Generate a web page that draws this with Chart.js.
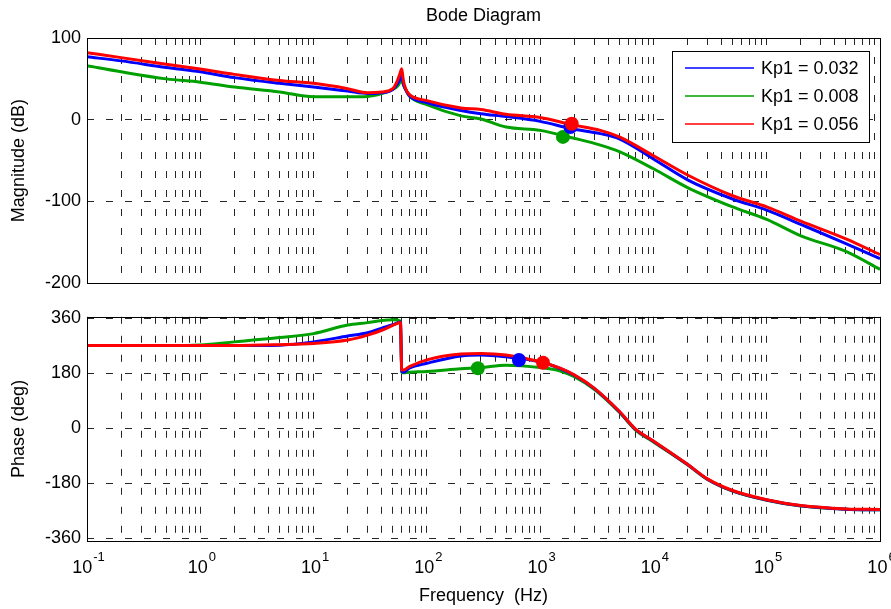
<!DOCTYPE html>
<html>
<head>
<meta charset="utf-8">
<script src="https://cdn.jsdelivr.net/npm/chart.js@4.4.0/dist/chart.umd.min.js"></script>
<style>
  body { margin: 0; background: #fff; }
  #wrap { position: relative; width: 891px; height: 609px; }
  canvas { position: absolute; left: 0; }
</style>
</head>
<body>
<div id="wrap">
  <canvas id="magChart" width="891" height="300" style="top:0"></canvas>
  <canvas id="phaseChart" width="891" height="309" style="top:300px"></canvas>
</div>
<script>
// --------------- Dados ------------------
const seriesLabels = ["Kp1 = 0.032", "Kp1 = 0.008", "Kp1 = 0.056"];

const magFreq = [0.1, 0.2, 0.5, 1, 2, 5, 10, 20, 30, 40, 50, 55, 58, 60, 62, 65, 70,
  100, 200, 300, 500, 1000, 1900, 3400, 5000, 1e4, 2e4, 5e4, 1e5, 2e5, 5e5, 1e6];
const magBlue = [77, 72, 64, 58.6, 51.5, 44.5, 40, 35, 32, 33, 37, 44, 50, 56, 44, 37, 29.5,
  21, 11.4, 7.4, 3.9, -2, -11, -17, -23.4, -48, -73.5, -97, -110.5, -128, -151.5, -170];
const magGreen = [66, 58.6, 50, 46, 40, 34, 28, 28, 28.5, 32, 37, 41, 45.7, 48, 43, 36.7, 29,
  18.4, 4.7, 0.8, -9, -13, -22, -31, -39, -60, -83, -106.7, -122, -142, -161, -183];
const magRed = [82, 76, 68, 62, 55.5, 48, 44.5, 38, 33, 34, 38, 48, 57, 62.5, 48, 38, 31,
  23.4, 14.4, 12.5, 6.7, 2.7, -6, -13, -21, -44, -67.6, -93, -106.7, -124, -145.7, -165];

const phaseFreq = [0.1, 0.5, 1, 2, 5, 10, 20, 30, 40, 50, 58.5, 60, 62, 70,
  100, 200, 300, 500, 1000, 1500, 2000, 3000, 5000, 7000, 1e4, 2e4, 3e4, 5e4, 1e5, 2e5, 5e5, 1e6];
const phaseBlue = [270, 270, 270, 270, 271, 282, 301, 312, 327, 338, 347, 185, 183, 196,
  212, 236, 239, 233, 217, 195, 173, 130, 54, -5, -43, -119, -167, -205, -235, -254, -265, -267];
const phaseGreen = [270, 270, 272, 282, 296, 309, 337, 345, 352, 354, 350, 183, 181, 183,
  185, 194, 198, 206, 198, 187, 168, 127, 52, -7, -45, -120, -168, -206, -236, -255, -265, -267];
const phaseRed = [270, 270, 270, 270, 273, 277, 288, 304, 320, 336, 345, 190, 190, 201,
  223, 242, 244, 239, 217, 196, 174, 131, 55, -4, -42, -118, -166, -204, -234, -253, -264, -266];

// margens (pontos marcados): verde, azul, vermelho
const magMarkFreq = [1590, 1850, 1900];
const magMarkVal = [-21, -9, -5];
const phaseMarkFreq = [282, 650, 1060];
const phaseMarkVal = [196, 223, 214];

const decades = [-1, 0, 1, 2, 3, 4, 5, 6];
const magTicks = [-200, -100, 0, 100];
const phaseTicks = [-360, -180, 0, 180, 360];

// --------------- Estilo ------------------
const FONT = "'Liberation Sans', Arial, sans-serif";
const azul = "rgb(0, 0, 255)";
const verde = "rgb(0, 160, 0)";
const vermelho = "rgb(255, 0, 0)";
const corGrade = "rgba(0, 0, 0, 0.85)";

Chart.defaults.font.family = FONT;
Chart.defaults.font.size = 18;
Chart.defaults.color = "#000";

let xTicks = [];
decades.forEach((e) => {
  if (e === 6) {
    xTicks.push(1e6);
    return;
  }
  for (let k = 1; k <= 9; k++) xTicks.push(k * Math.pow(10, e));
});

function pontos(freq, vals) {
  return freq.map((f, i) => ({ x: f, y: vals[i] }));
}

function linha(label, freq, vals, cor, ordem) {
  return {
    label: label,
    data: pontos(freq, vals),
    borderColor: cor,
    backgroundColor: cor,
    borderWidth: 3,
    pointRadius: 0,
    cubicInterpolationMode: "monotone",
    fill: false,
    order: ordem,
  };
}

function marcadores(freq, vals) {
  return {
    data: pontos(freq, vals),
    showLine: false,
    pointRadius: 7,
    pointBorderWidth: 0,
    pointBackgroundColor: [verde, azul, vermelho],
    pointBorderColor: [verde, azul, vermelho],
    order: 0,
  };
}

function eixoX(extra) {
  return Object.assign(
    {
      type: "logarithmic",
      min: 0.1,
      max: 1e6,
      afterBuildTicks: (s) => {
        s.ticks = xTicks.map((v) => ({ value: v }));
      },
      ticks: { display: false },
      grid: { color: corGrade, drawTicks: false },
      border: { display: false, dash: [7, 12] },
    },
    extra
  );
}

function eixoY(min, max, ticks, titulo) {
  return {
    min: min,
    max: max,
    afterBuildTicks: (s) => {
      s.ticks = ticks.map((v) => ({ value: v }));
    },
    afterFit: (s) => {
      s.width = 87;
    },
    ticks: { padding: 6, font: { size: 18 } },
    grid: { color: corGrade, drawTicks: false },
    border: { display: false, dash: [7, 12] },
    title: { display: true, text: titulo, padding: { top: 8, bottom: 0 }, font: { size: 18 } },
  };
}

// caixa preta em volta da area do grafico
const caixa = {
  id: "caixa",
  afterDatasetsDraw(chart) {
    const { ctx, chartArea: a } = chart;
    ctx.save();
    ctx.strokeStyle = "#000";
    ctx.lineWidth = 1;
    const l = Math.round(a.left) + 0.5;
    const t = Math.round(a.top) + 0.5;
    const r = Math.round(a.right) + 0.5;
    const b = Math.round(a.bottom) + 0.5;
    ctx.strokeRect(l, t, r - l, b - t);
    ctx.restore();
  },
};

// legenda com borda, dentro do grafico
const legendaCaixa = {
  id: "legendaCaixa",
  afterDraw(chart) {
    const { ctx, chartArea: a } = chart;
    const itens = chart.data.datasets.filter((d) => d.label);
    const x0 = Math.round(a.right) - 208;
    const y0 = Math.round(a.top) + 13;
    ctx.save();
    ctx.fillStyle = "#fff";
    ctx.fillRect(x0, y0, 197, 91);
    ctx.strokeStyle = "#000";
    ctx.lineWidth = 1;
    ctx.strokeRect(x0 + 0.5, y0 + 0.5, 197, 91);
    ctx.font = "18px " + FONT;
    ctx.textAlign = "left";
    ctx.textBaseline = "middle";
    itens.forEach((d, i) => {
      const y = y0 + 17 + i * 28;
      ctx.strokeStyle = d.borderColor;
      ctx.lineWidth = 1.5;
      ctx.beginPath();
      ctx.moveTo(x0 + 13, y);
      ctx.lineTo(x0 + 82, y);
      ctx.stroke();
      ctx.fillStyle = "#000";
      ctx.fillText(d.label, x0 + 89, y + 1.5);
    });
    ctx.restore();
  },
};

// rotulos 10^n no eixo x
const rotulosDecada = {
  id: "rotulosDecada",
  afterDraw(chart) {
    const { ctx } = chart;
    const s = chart.scales.x;
    ctx.save();
    ctx.fillStyle = "#000";
    ctx.textAlign = "left";
    ctx.textBaseline = "alphabetic";
    decades.forEach((e) => {
      const x = s.getPixelForValue(Math.pow(10, e));
      ctx.font = "18px " + FONT;
      const w1 = ctx.measureText("10").width;
      ctx.font = "13px " + FONT;
      const w2 = ctx.measureText(String(e)).width;
      const esq = x + 1 - (w1 + w2) / 2;
      ctx.font = "18px " + FONT;
      ctx.fillText("10", esq, s.top + 32);
      ctx.font = "13px " + FONT;
      ctx.fillText(String(e), esq + w1 + 1, s.top + 20);
    });
    ctx.restore();
  },
};

// --------------- Magnitude ------------------
new Chart(document.getElementById("magChart"), {
  type: "line",
  data: {
    datasets: [
      linha(seriesLabels[0], magFreq, magBlue, azul, 2),
      linha(seriesLabels[1], magFreq, magGreen, verde, 3),
      linha(seriesLabels[2], magFreq, magRed, vermelho, 1),
      marcadores(magMarkFreq, magMarkVal),
    ],
  },
  options: {
    responsive: false,
    animation: false,
    events: [],
    devicePixelRatio: 1,
    layout: { padding: { left: 0, right: 11, top: 0, bottom: 0 } },
    plugins: {
      legend: { display: false },
      tooltip: { enabled: false },
      title: {
        display: true,
        text: "Bode Diagram",
        fullSize: false,
        font: { size: 18, weight: "normal" },
        padding: { top: 5, bottom: 11.4 },
        color: "#000",
      },
    },
    scales: {
      x: eixoX({
        afterFit: (s) => {
          s.height = 6;
        },
      }),
      y: eixoY(-200, 100, magTicks, "Magnitude (dB)"),
    },
  },
  plugins: [caixa, legendaCaixa],
});

// --------------- Fase ------------------
new Chart(document.getElementById("phaseChart"), {
  type: "line",
  data: {
    datasets: [
      linha(seriesLabels[0], phaseFreq, phaseBlue, azul, 2),
      linha(seriesLabels[1], phaseFreq, phaseGreen, verde, 3),
      linha(seriesLabels[2], phaseFreq, phaseRed, vermelho, 1),
      marcadores(phaseMarkFreq, phaseMarkVal),
    ],
  },
  options: {
    responsive: false,
    animation: false,
    events: [],
    devicePixelRatio: 1,
    layout: { padding: { left: 0, right: 11, top: 15, bottom: 0 } },
    plugins: {
      legend: { display: false },
      tooltip: { enabled: false },
    },
    scales: {
      x: eixoX({
        afterFit: (s) => {
          s.height = 68;
        },
        title: {
          display: true,
          text: "Frequency  (Hz)",
          padding: { top: 0, bottom: 2 },
          font: { size: 18 },
        },
      }),
      y: eixoY(-369, 364, phaseTicks, "Phase (deg)"),
    },
  },
  plugins: [caixa, rotulosDecada],
});
</script>
</body>
</html>
